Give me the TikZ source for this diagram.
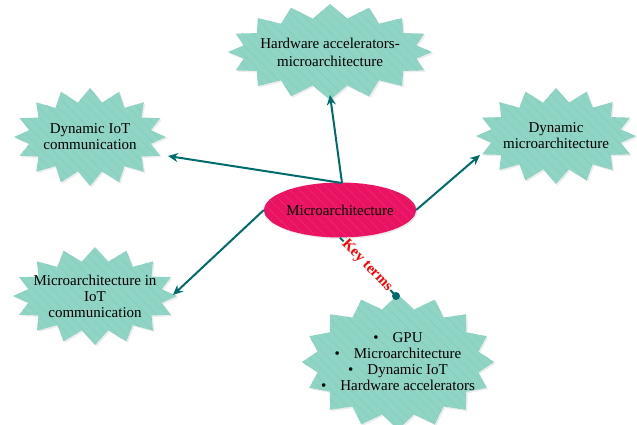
\documentclass[tikz,border=0pt]{standalone}
\usepackage{fontspec}
\setmainfont{Liberation Serif}
\usetikzlibrary{shapes.symbols,shapes.geometric,arrows.meta,shadows,patterns.meta}
\definecolor{burst}{HTML}{8FD4C4}
\definecolor{burstline}{HTML}{86CEBD}
\definecolor{hub}{HTML}{EA1262}
\definecolor{hubline}{HTML}{EE2A72}
\definecolor{arrowc}{HTML}{006B6B}
\begin{document}
\begin{tikzpicture}[x=1pt,y=-1pt,
  burstnode/.style={shape=starburst, random starburst=0, starburst points=16,
    starburst point height=14pt, fill=burst, draw=none, align=center,
    inner xsep=-25pt, inner ysep=-5pt,
    font=\fontsize{15}{16}\selectfont,
    drop shadow={opacity=0.15,shadow xshift=1.5pt,shadow yshift=-1.5pt},
    postaction={pattern={Lines[angle=-45,distance=7pt,line width=0.6pt]}, pattern color=burstline}},
  hubnode/.style={shape=ellipse, fill=hub, draw=none, inner sep=0pt,
    minimum width=150pt, minimum height=55pt, font=\fontsize{15}{16}\selectfont,
    drop shadow={opacity=0.15,shadow xshift=1.5pt,shadow yshift=-1.5pt},
    postaction={pattern={Lines[angle=-45,distance=7pt,line width=0.6pt]}, pattern color=hubline}},
  arr/.style={draw=arrowc, line width=2pt, -{Stealth[length=10pt,width=9pt]}},
  keylabel/.style={font=\bfseries\fontsize{15}{16}\selectfont, text=red, fill=white, inner sep=0.5pt, sloped}
]
\useasboundingbox (0,0) rectangle (637,425);
\node[hubnode] (c) at (340,210) {Microarchitecture};

\node[burstnode, minimum width=204pt, minimum height=96pt, font=\fontsize{15}{18}\selectfont] (top) at (330,52)
  {Hardware accelerators-\\microarchitecture};
\node[burstnode, minimum width=152pt, minimum height=98pt] (lt) at (90,137)
  {Dynamic IoT\\communication};
\node[burstnode, minimum width=160pt, minimum height=96pt] (rt) at (556,136)
  {Dynamic\\microarchitecture};
\node[burstnode, minimum width=164pt, minimum height=98pt] (lb) at (95,296)
  {Microarchitecture in\\IoT\\communication};
\node[burstnode, minimum width=192pt, minimum height=135pt] (kt) at (398,362)
  {\textbullet\hspace{14pt}GPU\\
   \textbullet\hspace{14pt}Microarchitecture\\
   \textbullet\hspace{14pt}Dynamic IoT\\
   \textbullet\hspace{14pt}Hardware accelerators};

\coordinate (topin) at (330,95);
\coordinate (ltin) at (168,156);
\coordinate (rtin) at (480,155);
\coordinate (lbin) at (173,295);
\coordinate (cn) at (342,183);
\coordinate (ktin) at (396,296);

\draw[arr] (cn) -- (topin);
\draw[arr] (cn) -- (ltin);
\draw[arr] (c.east) -- (rtin);
\draw[arr] (c.west) -- (lbin);
\draw[draw=arrowc, line width=2pt] (c.south) -- node[keylabel, pos=0.48] {Key terms} (ktin);
\fill[arrowc] (ktin) circle (4pt);
\end{tikzpicture}
\end{document}
